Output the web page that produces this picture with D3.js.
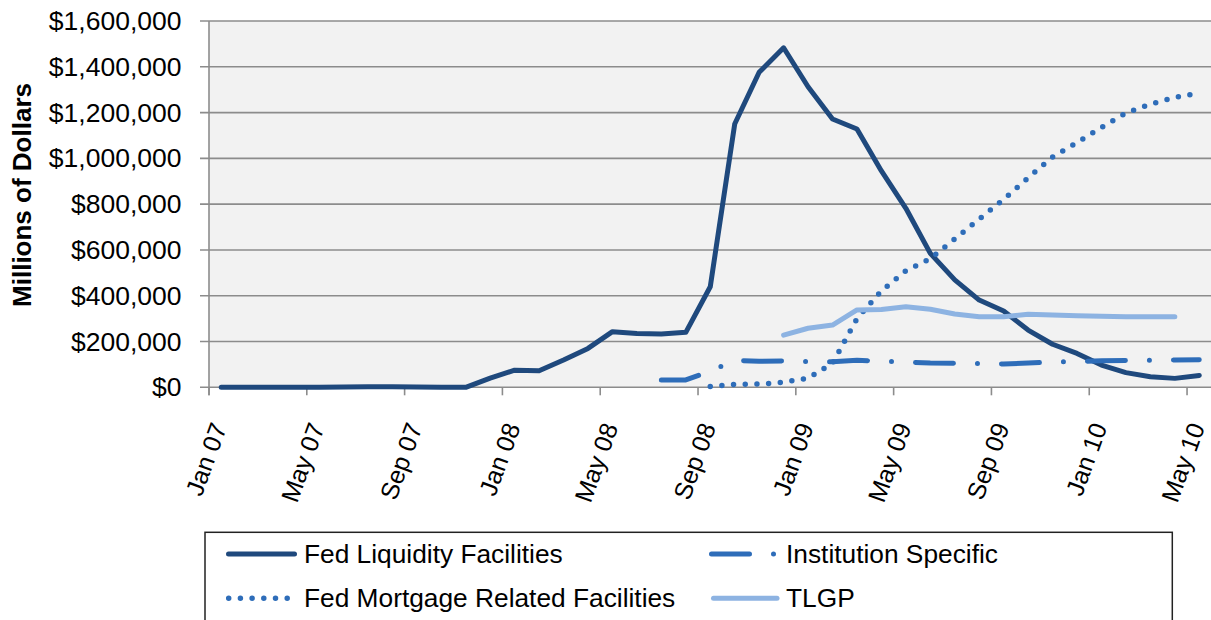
<!DOCTYPE html>
<html>
<head>
<meta charset="utf-8">
<script src="https://cdn.jsdelivr.net/npm/d3@7"></script>
<style>
  html, body { margin: 0; padding: 0; background: #fff; }
  svg { display: block; font-family: "Liberation Sans", Arial, sans-serif; }
</style>
</head>
<body>
<svg id="chart" width="1211" height="620"></svg>
<script>
const months = ["Jan 07","Feb 07","Mar 07","Apr 07","May 07","Jun 07","Jul 07","Aug 07","Sep 07","Oct 07","Nov 07","Dec 07",
  "Jan 08","Feb 08","Mar 08","Apr 08","May 08","Jun 08","Jul 08","Aug 08","Sep 08","Oct 08","Nov 08","Dec 08",
  "Jan 09","Feb 09","Mar 09","Apr 09","May 09","Jun 09","Jul 09","Aug 09","Sep 09","Oct 09","Nov 09","Dec 09",
  "Jan 10","Feb 10","Mar 10","Apr 10","May 10"];
const tickLabels = ["Jan 07","May 07","Sep 07","Jan 08","May 08","Sep 08","Jan 09","May 09","Sep 09","Jan 10","May 10"];
const yTicks = [0, 200000, 400000, 600000, 800000, 1000000, 1200000, 1400000, 1600000];

const fedLiquidity = [0,0,0,0,0,1000,2000,2000,1000,0,0,40000,
  75000,72000,119000,170000,243000,235000,233000,240000,439000,1150000,1376000,1483000,
  1313000,1172000,1128000,945000,782000,585000,469000,381000,333000,250000,188000,148000,
  97000,64000,46000,39000,52000];
const institutionSpecific = [null,null,null,null,null,null,null,null,null,null,null,null,
  null,null,null,null,null,null,32000,32000,70000,117000,114000,115000,
  112000,112000,118000,114000,110000,106000,105000,104000,102000,106000,110000,113000,
  116000,117000,118000,119000,120000];
const fedMortgage = [null,null,null,null,null,null,null,null,null,null,null,null,
  null,null,null,null,null,null,null,null,3000,13000,14000,22000,
  40000,105000,300000,421000,509000,562000,648000,735000,821000,915000,1006000,1069000,
  1135000,1198000,1237000,1266000,1286000];
const tlgp = [null,null,null,null,null,null,null,null,null,null,null,null,
  null,null,null,null,null,null,null,null,null,null,null,228000,
  258000,272000,338000,340000,352000,341000,320000,308000,308000,319000,316000,313000,
  310000,308000,308000,308000,null];

const seriesNames = ["Fed Liquidity Facilities","Institution Specific","Fed Mortgage Related Facilities","TLGP"];
const seriesValues = [fedLiquidity, institutionSpecific, fedMortgage, tlgp];
const seriesStyle = [
  {color:"#1F497D", width:5, dash:null, cap:"round"},
  {color:"#2E6DB9", width:5, dash:"38 24 0 24", cap:"round"},
  {color:"#2E6DB9", width:5.5, dash:"0 11.7", cap:"round"},
  {color:"#8DB3E2", width:5, dash:null, cap:"round"}
];

const svg = d3.select("#chart");
const plot = {left: 209, right: 1211.5, top: 21, bottom: 387.3};

const x = d3.scalePoint().domain(months).range([plot.left, plot.right]).padding(0.5);
const step = x.step();
const y = d3.scaleLinear().domain([0, 1600000]).range([plot.bottom, plot.top]);

// plot background
svg.append("rect").attr("x", plot.left).attr("y", plot.top)
  .attr("width", plot.right - plot.left).attr("height", plot.bottom - plot.top)
  .attr("fill", "#F2F2F2");

const gridColor = "#8C8C8C";
// horizontal gridlines (extend as ticks to the left)
svg.append("g").selectAll("line").data(yTicks).join("line")
  .attr("x1", plot.left - 9).attr("x2", plot.right)
  .attr("y1", d => y(d)).attr("y2", d => y(d))
  .attr("stroke", gridColor).attr("stroke-width", 1.6);

// y axis line
svg.append("line").attr("x1", plot.left).attr("x2", plot.left)
  .attr("y1", plot.top).attr("y2", plot.bottom + 8)
  .attr("stroke", gridColor).attr("stroke-width", 1.6);

// y tick labels
const fmt = d => "$" + d3.format(",")(d);
svg.append("g").selectAll("text").data(yTicks).join("text")
  .attr("x", 181.5).attr("y", d => y(d))
  .attr("text-anchor", "end").attr("dominant-baseline", "central")
  .attr("font-size", 26.5).attr("fill", "#000")
  .text(fmt);

// y axis title
svg.append("text")
  .attr("transform", "translate(31,195) rotate(-90)")
  .attr("text-anchor", "middle")
  .attr("font-size", 26).attr("font-weight", "bold").attr("fill", "#000")
  .text("Millions of Dollars");

// x axis tick marks (category boundaries every 4 months)
const tickCats = tickLabels.map(l => months.indexOf(l));
svg.append("g").selectAll("line").data(tickCats).join("line")
  .attr("x1", i => x(months[i]) - step / 2).attr("x2", i => x(months[i]) - step / 2)
  .attr("y1", plot.bottom).attr("y2", plot.bottom + 8)
  .attr("stroke", gridColor).attr("stroke-width", 1.6);

// x tick labels
svg.append("g").selectAll("text").data(tickLabels).join("text")
  .attr("transform", d => `translate(${x(d) + 6},427) rotate(-70)`)
  .attr("text-anchor", "end")
  .attr("font-size", 25).attr("fill", "#000")
  .text(d => d);

// series lines
const line = d3.line()
  .defined(d => d.v !== null)
  .x(d => x(d.m)).y(d => y(d.v));

seriesValues.forEach((vals, k) => {
  const data = months.map((m, i) => ({m, v: vals[i]}));
  const st = seriesStyle[k];
  svg.append("path").datum(data)
    .attr("d", line)
    .attr("fill", "none")
    .attr("stroke", st.color)
    .attr("stroke-width", st.width)
    .attr("stroke-linecap", st.cap)
    .attr("stroke-linejoin", "round")
    .attr("stroke-dasharray", st.dash);
});

// legend
svg.append("rect").attr("x", 205).attr("y", 532.3)
  .attr("width", 1172.3 - 205).attr("height", 100)
  .attr("fill", "#fff").attr("stroke", "#222").attr("stroke-width", 1.5);

const legendPos = [
  {x1: 228.5, x2: 294.5, ty: 554, tx: 304},
  {x1: 711.5, x2: 776, ty: 554, tx: 786},
  {x1: 228.7, x2: 290, ty: 598.3, tx: 304},
  {x1: 713.5, x2: 777, ty: 598.3, tx: 786}
];
seriesNames.forEach((name, k) => {
  const p = legendPos[k], st = seriesStyle[k];
  svg.append("line").attr("x1", p.x1).attr("x2", p.x2)
    .attr("y1", p.ty).attr("y2", p.ty)
    .attr("stroke", st.color).attr("stroke-width", st.width)
    .attr("stroke-linecap", st.cap).attr("stroke-dasharray", st.dash);
  svg.append("text").attr("x", p.tx).attr("y", p.ty)
    .attr("dominant-baseline", "central")
    .attr("font-size", 26.3).attr("fill", "#000")
    .text(name);
});
</script>
</body>
</html>
